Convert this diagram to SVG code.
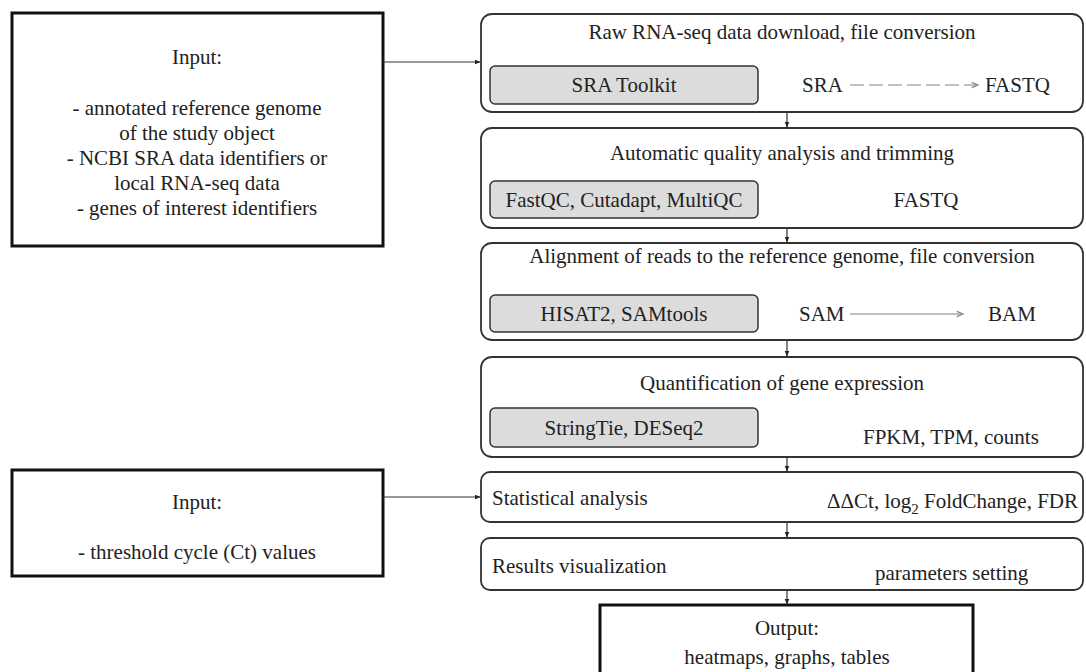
<svg xmlns="http://www.w3.org/2000/svg" width="1086" height="672" viewBox="0 0 1086 672">
<defs>
<marker id="ah" viewBox="0 0 10 10" refX="9" refY="5" markerWidth="5" markerHeight="5" orient="auto"><path d="M0,1 L10,5 L0,9 z" fill="#222"/></marker>
<marker id="oh" viewBox="0 0 10 10" refX="9" refY="5" markerWidth="6" markerHeight="6" orient="auto"><path d="M2,2 L9,5 L2,8" fill="none" stroke="#888" stroke-width="1.5"/></marker>
</defs>
<style>
text{font-family:"Times New Roman",Times,"Liberation Serif","DejaVu Serif",serif;fill:#222;font-size:21px}
.c{text-anchor:middle}
.inp{fill:#fff;stroke:#111;stroke-width:3}
.step{fill:#fff;stroke:#333;stroke-width:1.8}
.tool{fill:#dcdcdc;stroke:#333;stroke-width:1.5}
.con{stroke:#333;stroke-width:1.2;fill:none}
.fa{stroke:#aaa;stroke-width:1.5;fill:none}
</style>
<rect width="1086" height="672" fill="#fff"/>
<g id="input1">
<rect class="inp" x="12" y="13" width="371" height="233"/>
<text class="c" x="197" y="64">Input:</text>
<text class="c" x="197" y="115">- annotated reference genome</text>
<text class="c" x="197" y="140">of the study object</text>
<text class="c" x="197" y="165">- NCBI SRA data identifiers or</text>
<text class="c" x="197" y="190">local RNA-seq data</text>
<text class="c" x="197" y="215">- genes of interest identifiers</text>
</g>
<g id="input2">
<rect class="inp" x="12" y="470" width="371" height="106"/>
<text class="c" x="197" y="509">Input:</text>
<text class="c" x="197" y="559">- threshold cycle (Ct) values</text>
</g>
<g id="step1">
<rect class="step" x="481" y="14" width="602" height="98" rx="11"/>
<text class="c" x="782" y="39">Raw RNA-seq data download, file conversion</text>
<rect class="tool" x="490" y="66" width="268" height="38" rx="5"/>
<text class="c" x="624" y="92">SRA Toolkit</text>
<text x="802" y="92">SRA</text>
<line class="fa" x1="850" y1="85" x2="978" y2="85" stroke-dasharray="14 5" marker-end="url(#oh)"/>
<text x="985" y="92">FASTQ</text>
</g>
<g id="step2">
<rect class="step" x="481" y="128" width="602" height="100" rx="11"/>
<text class="c" x="782" y="160">Automatic quality analysis and trimming</text>
<rect class="tool" x="490" y="181" width="268" height="37" rx="5"/>
<text class="c" x="624" y="207">FastQC, Cutadapt, MultiQC</text>
<text class="c" x="926" y="207">FASTQ</text>
</g>
<g id="step3">
<rect class="step" x="481" y="243" width="602" height="97" rx="11"/>
<text class="c" x="782" y="263">Alignment of reads to the reference genome, file conversion</text>
<rect class="tool" x="490" y="295" width="268" height="37" rx="5"/>
<text class="c" x="624" y="321">HISAT2, SAMtools</text>
<text x="799" y="321">SAM</text>
<line class="fa" x1="850" y1="314" x2="963" y2="314" marker-end="url(#oh)"/>
<text x="988" y="321">BAM</text>
</g>
<g id="step4">
<rect class="step" x="481" y="357" width="602" height="100" rx="11"/>
<text class="c" x="782" y="390">Quantification of gene expression</text>
<rect class="tool" x="490" y="408" width="268" height="39" rx="5"/>
<text class="c" x="624" y="435">StringTie, DESeq2</text>
<text x="863" y="444">FPKM, TPM, counts</text>
</g>
<g id="step5">
<rect class="step" x="481" y="472" width="602" height="50" rx="9"/>
<text x="492" y="505">Statistical analysis</text>
<text x="1078" y="508" text-anchor="end">ΔΔCt, log<tspan font-size="15" dy="6">2</tspan><tspan dy="-6"> FoldChange, FDR</tspan></text>
</g>
<g id="step6">
<rect class="step" x="481" y="538" width="602" height="52" rx="9"/>
<text x="492" y="573">Results visualization</text>
<text x="875" y="580">parameters setting</text>
</g>
<g id="output">
<rect class="inp" x="600" y="605" width="373" height="90"/>
<text class="c" x="787" y="635">Output:</text>
<text class="c" x="787" y="664">heatmaps, graphs, tables</text>
</g>
<g id="connectors">
<line class="con" x1="383" y1="62" x2="480" y2="62" marker-end="url(#ah)"/>
<line class="con" x1="383" y1="497" x2="480" y2="497" marker-end="url(#ah)"/>
<line class="con" x1="787" y1="112" x2="787" y2="127" marker-end="url(#ah)"/>
<line class="con" x1="787" y1="228" x2="787" y2="242" marker-end="url(#ah)"/>
<line class="con" x1="787" y1="340" x2="787" y2="356" marker-end="url(#ah)"/>
<line class="con" x1="787" y1="457" x2="787" y2="471" marker-end="url(#ah)"/>
<line class="con" x1="787" y1="522" x2="787" y2="537" marker-end="url(#ah)"/>
<line class="con" x1="787" y1="590" x2="787" y2="604" marker-end="url(#ah)"/>
</g>
</svg>
